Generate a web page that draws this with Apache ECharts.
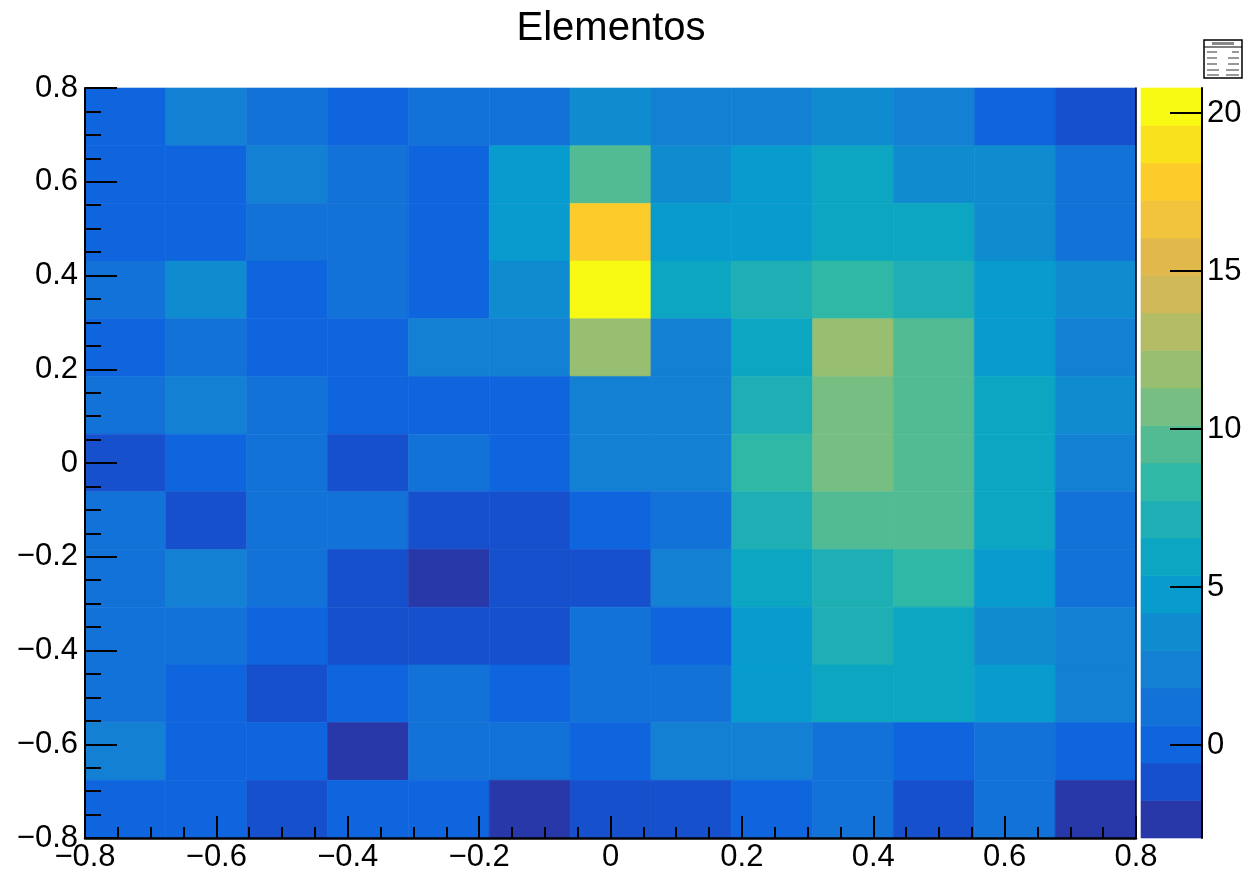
<!DOCTYPE html>
<html>
<head>
<meta charset="utf-8">
<script src="https://cdn.jsdelivr.net/npm/echarts@6/dist/echarts.min.js"></script>
<style>
html,body{margin:0;padding:0;background:#fff;}
#chart{width:1249px;height:875px;}
</style>
</head>
<body>
<div id="chart"></div>
<script>
// ---------- data ----------
const chartTitle = 'Elementos';
const xRange = [-0.8, 0.8];
const yRange = [-0.8, 0.8];
const nBinsX = 13;
const nBinsY = 13;
const axisTickStep = 0.2;
// bin contents, rows from top (y = 0.8) to bottom (y = -0.8), columns from x = -0.8 to 0.8
const zRows = [
  [0.0, 2.4, 1.2, 0.0, 1.2, 1.2, 3.6, 2.4, 2.4, 3.6, 2.4, 0.0, -1.2],
  [0.0, 0.0, 2.4, 1.2, 0.0, 4.8, 9.5, 3.6, 4.8, 6.0, 3.6, 3.6, 1.2],
  [0.0, 0.0, 1.2, 1.2, 0.0, 4.8, 17.8, 4.8, 4.8, 6.0, 6.0, 3.6, 1.2],
  [1.2, 3.6, 0.0, 1.2, 0.0, 3.6, 20.2, 6.0, 7.2, 8.3, 7.2, 4.8, 3.6],
  [0.0, 1.2, 0.0, 0.0, 2.4, 2.4, 11.9, 2.4, 6.0, 11.9, 9.5, 4.8, 2.4],
  [1.2, 2.4, 1.2, 0.0, 0.0, 0.0, 2.4, 2.4, 7.2, 10.7, 9.5, 6.0, 3.6],
  [-1.2, 0.0, 1.2, -1.2, 1.2, 0.0, 2.4, 2.4, 8.3, 10.7, 9.5, 6.0, 2.4],
  [1.2, -1.2, 1.2, 1.2, -1.2, -1.2, 0.0, 1.2, 7.2, 9.5, 9.5, 6.0, 1.2],
  [1.2, 2.4, 1.2, -1.2, -2.4, -1.2, -1.2, 2.4, 6.0, 7.2, 8.3, 4.8, 1.2],
  [1.2, 1.2, 0.0, -1.2, -1.2, -1.2, 1.2, 0.0, 4.8, 7.2, 6.0, 3.6, 2.4],
  [1.2, 0.0, -1.2, 0.0, 1.2, 0.0, 1.2, 1.2, 4.8, 6.0, 6.0, 4.8, 2.4],
  [2.4, 0.0, 0.0, -2.4, 1.2, 1.2, 0.0, 2.4, 2.4, 1.2, 0.0, 1.2, 0.0],
  [0.0, 0.0, -1.2, 0.0, 0.0, -2.4, -1.2, -1.2, 0.0, 1.2, -1.2, 1.2, -2.4]
];
const zRange = [-2.94, 20.79];
const nLevels = 20;
const paletteColors = ['#2838a8','#1650cc','#0f65de','#1272d8','#1380d4','#0e8ccf','#089bce','#0ca6c2',
  '#1eafb4','#2eb8a5','#52bb93','#77be82','#98bf71','#b4bd65','#cfb958','#e1b84c','#f2c33c','#fccc2a','#f9e11d','#f9fa13'];
const colorTickValues = [0, 5, 10, 15, 20];

// ---------- build ----------
const dx = (xRange[1] - xRange[0]) / nBinsX;
const dy = (yRange[1] - yRange[0]) / nBinsY;
const cellData = [];
zRows.forEach((row, r) => {
  row.forEach((z, c) => {
    cellData.push([xRange[0] + (c + 0.5) * dx, yRange[1] - (r + 0.5) * dy, z]);
  });
});
const levelStep = (zRange[1] - zRange[0]) / nLevels;
const levelData = [];
const pieces = [];
for (let i = 0; i < nLevels; i++) {
  const lo = zRange[0] + i * levelStep, hi = lo + levelStep;
  levelData.push([0.5, lo, hi, i]);
  const p = {color: paletteColors[i]};
  if (i > 0) p.gte = lo;
  if (i < nLevels - 1) p.lt = hi;
  pieces.push(p);
}

const FONT = 'Liberation Sans, Arial, Helvetica, sans-serif';
const fmt = v => {
  const s = String(Math.round(v * 10) / 10);
  return s.replace('-', '\u2212');
};

const chart = echarts.init(document.getElementById('chart'), null, {renderer: 'canvas'});
chart.setOption({
  backgroundColor: '#ffffff',
  animation: false,
  grid: [
    {left: 85, top: 88, width: 1051, height: 750},
    {left: 1141, top: 88, width: 61, height: 750}
  ],
  visualMap: [{
    type: 'piecewise', show: false, seriesIndex: 0, dimension: 2, pieces: pieces
  }],
  xAxis: [
    {
      type: 'value', gridIndex: 0, min: xRange[0], max: xRange[1], interval: axisTickStep, z: 10,
      axisLine: {show: true, onZero: false, lineStyle: {color: '#000', width: 2.5}},
      axisTick: {show: true, inside: true, length: 22, lineStyle: {color: '#000', width: 2}},
      minorTick: {show: true, splitNumber: 4, length: 11, lineStyle: {color: '#000', width: 2}},
      splitLine: {show: false},
      axisLabel: {color: '#000', fontSize: 31, fontFamily: FONT, margin: 4, formatter: fmt}
    },
    {type: 'value', gridIndex: 1, min: 0, max: 1, show: false}
  ],
  yAxis: [
    {
      type: 'value', gridIndex: 0, min: yRange[0], max: yRange[1], interval: axisTickStep, z: 10,
      axisLine: {show: true, onZero: false, lineStyle: {color: '#000', width: 2}},
      axisTick: {show: true, inside: true, length: 32, lineStyle: {color: '#000', width: 2}},
      minorTick: {show: true, splitNumber: 4, length: 16, lineStyle: {color: '#000', width: 2}},
      splitLine: {show: false},
      axisLabel: {color: '#000', fontSize: 31, fontFamily: FONT, margin: 7, padding: [4, 0, 0, 0], formatter: fmt}
    },
    {
      type: 'value', gridIndex: 1, min: zRange[0], max: zRange[1], position: 'right', z: 10,
      axisLine: {show: true, onZero: false, lineStyle: {color: '#000', width: 2}},
      axisTick: {show: true, inside: true, length: 32, customValues: colorTickValues,
        lineStyle: {color: '#000', width: 2}},
      splitLine: {show: false},
      axisLabel: {color: '#000', fontSize: 31, fontFamily: FONT, margin: 5,
        customValues: colorTickValues, formatter: v => String(v)}
    },
    {
      type: 'value', gridIndex: 0, min: yRange[0], max: yRange[1], position: 'right', z: 10,
      axisLine: {show: true, onZero: false, lineStyle: {color: '#000', width: 1.5}},
      axisTick: {show: false}, axisLabel: {show: false}, splitLine: {show: false}
    }
  ],
  series: [
    {
      type: 'custom', xAxisIndex: 0, yAxisIndex: 0, data: cellData, z: 1,
      encode: {x: 0, y: 1},
      renderItem: function (params, api) {
        const x = api.value(0), y = api.value(1);
        const p1 = api.coord([x - dx / 2, y + dy / 2]);
        const p2 = api.coord([x + dx / 2, y - dy / 2]);
        const col = api.visual('color');
        return {
          type: 'rect',
          shape: {x: p1[0], y: p1[1], width: p2[0] - p1[0], height: p2[1] - p1[1]},
          style: {fill: col, stroke: col, lineWidth: 0.6}
        };
      }
    },
    {
      type: 'custom', xAxisIndex: 1, yAxisIndex: 1, data: levelData, z: 1,
      encode: {x: 0, y: [1, 2]},
      renderItem: function (params, api) {
        const p1 = api.coord([0, api.value(2)]);
        const p2 = api.coord([1, api.value(1)]);
        const col = paletteColors[api.value(3)];
        return {
          type: 'rect',
          shape: {x: p1[0], y: p1[1], width: p2[0] - p1[0], height: p2[1] - p1[1]},
          style: {fill: col, stroke: col, lineWidth: 0.6}
        };
      }
    }
  ],
  graphic: [
    {type: 'text', x: 611, y: 29, z: 10,
      style: {text: chartTitle, font: '40px ' + FONT, fill: '#000', textAlign: 'center', textVerticalAlign: 'middle'}},
    {type: 'group', x: 1204, y: 40, z: 10, children: [
      {type: 'rect', shape: {x: 0, y: 0, width: 38, height: 38}, style: {fill: '#fff', stroke: '#000', lineWidth: 1.5}},
      {type: 'line', shape: {x1: 0, y1: 7, x2: 38, y2: 7}, style: {stroke: '#000', lineWidth: 1}},
      {type: 'rect', shape: {x: 8, y: 2, width: 22, height: 3}, style: {fill: '#888'}},
      {type: 'rect', shape: {x: 3, y: 11, width: 10, height: 2}, style: {fill: '#999'}},
      {type: 'rect', shape: {x: 28, y: 11, width: 7, height: 2}, style: {fill: '#999'}},
      {type: 'rect', shape: {x: 3, y: 17, width: 10, height: 2}, style: {fill: '#999'}},
      {type: 'rect', shape: {x: 24, y: 17, width: 11, height: 2}, style: {fill: '#999'}},
      {type: 'rect', shape: {x: 3, y: 23, width: 10, height: 2}, style: {fill: '#999'}},
      {type: 'rect', shape: {x: 24, y: 23, width: 11, height: 2}, style: {fill: '#999'}},
      {type: 'rect', shape: {x: 3, y: 29, width: 12, height: 2}, style: {fill: '#999'}},
      {type: 'rect', shape: {x: 22, y: 29, width: 13, height: 2}, style: {fill: '#999'}},
      {type: 'rect', shape: {x: 3, y: 34, width: 12, height: 2}, style: {fill: '#999'}},
      {type: 'rect', shape: {x: 22, y: 34, width: 13, height: 2}, style: {fill: '#999'}}
    ]}
  ]
});
</script>
</body>
</html>
